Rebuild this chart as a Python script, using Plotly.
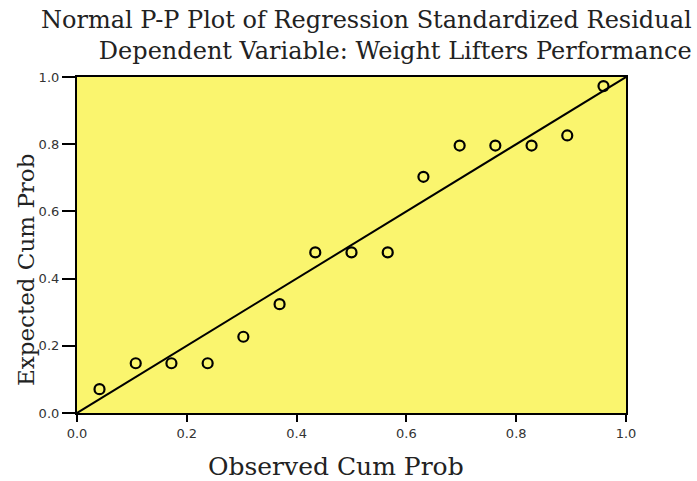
import plotly.graph_objects as go

# Observed vs expected cumulative probabilities of the standardized residuals
observed_cum_prob = [0.041, 0.107, 0.172, 0.238, 0.303, 0.369, 0.434, 0.500,
                     0.566, 0.631, 0.697, 0.762, 0.828, 0.893, 0.959]
expected_cum_prob = [0.071, 0.148, 0.148, 0.148, 0.227, 0.324, 0.478, 0.478,
                     0.478, 0.703, 0.796, 0.796, 0.796, 0.826, 0.973]
ref_line = [0.0, 1.0]
tick_vals = [0.0, 0.2, 0.4, 0.6, 0.8, 1.0]
tick_text = ["0.0", "0.2", "0.4", "0.6", "0.8", "1.0"]

title_lines = ["Normal P-P Plot of Regression Standardized Residual",
               "Dependent Variable: Weight Lifters Performance"]
x_title = "Observed Cum Prob"
y_title = "Expected Cum Prob"

serif = "DejaVu Serif"
sans = "DejaVu Sans"

W, H = 697, 481
ML, MR, MT, MB = 77, 71, 77, 68
PW, PH = W - ML - MR, H - MT - MB


def px_to_paper_x(px):
    return (px - ML) / PW


def px_to_paper_y(py):
    return (H - MB - py) / PH


fig = go.Figure()

# Reference diagonal
fig.add_trace(go.Scatter(
    x=ref_line, y=ref_line, mode="lines",
    line=dict(color="black", width=2), hoverinfo="skip", showlegend=False,
))

# Residual points
fig.add_trace(go.Scatter(
    x=observed_cum_prob, y=expected_cum_prob, mode="markers",
    marker=dict(symbol="circle-open", size=10, color="black",
                line=dict(color="black", width=2.2)),
    showlegend=False,
))

axis_common = dict(
    range=[0, 1], tickvals=tick_vals, ticktext=tick_text,
    showgrid=False, zeroline=False, showline=True, linecolor="black",
    linewidth=2.2, mirror=True, ticks="outside", tickcolor="black",
    tickwidth=1.5, tickfont=dict(family=sans, size=13, color="#333333"),
)

fig.update_layout(
    width=W, height=H,
    margin=dict(l=ML, r=MR, t=MT, b=MB),
    paper_bgcolor="white", plot_bgcolor="#FAF56E",
    xaxis=dict(**axis_common, ticklen=7),
    yaxis=dict(**axis_common, ticklen=13),
    annotations=[
        dict(text="<br>".join(title_lines), xref="paper", yref="paper",
             x=px_to_paper_x(694), y=px_to_paper_y(4),
             xanchor="right", yanchor="top", align="right", showarrow=False,
             font=dict(family=serif, size=24, color="#222222")),
        dict(text=x_title, xref="paper", yref="paper",
             x=px_to_paper_x(336), y=px_to_paper_y(466),
             xanchor="center", yanchor="middle", showarrow=False,
             font=dict(family=serif, size=25, color="#222222")),
        dict(text=y_title, xref="paper", yref="paper", textangle=-90,
             x=px_to_paper_x(26), y=px_to_paper_y(270),
             xanchor="center", yanchor="middle", showarrow=False,
             font=dict(family=serif, size=23, color="#222222")),
    ],
)

fig.write_html("out.html")
